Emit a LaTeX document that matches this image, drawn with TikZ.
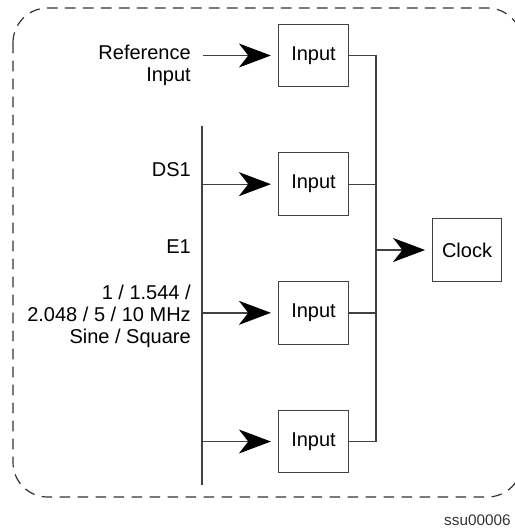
\documentclass[tikz,border=0pt]{standalone}
\usepackage{fontspec}
\setmainfont{Liberation Sans}
\usetikzlibrary{positioning, arrows.meta, calc}

\begin{document}
\begin{tikzpicture}[x=0.75pt, y=-0.75pt, node distance=96.5pt, on grid,
    inbox/.style={draw=black!75, line width=0.9pt, minimum width=53pt, minimum height=47pt, font=\fontsize{15}{16.5}\selectfont},
    lbl/.style={anchor=east, align=right, inner sep=0pt, font=\fontsize{15}{16.5}\selectfont},
    wire/.style={draw=black!75, line width=1pt},
    sig/.style={wire, -{Stealth[length=24pt, width=18pt, inset=7pt, black]}, shorten >=5pt}]
    \useasboundingbox (0,0) rectangle (514,531);
    % frame
    \draw[black!80, line width=0.9pt, dash pattern=on 8pt off 5.5pt, rounded corners=26pt] (13,8) rectangle (522,497);

    \node[inbox] (in0) at (313.5,55.5) {Input};
    \node[inbox] (in1) [below=of in0] {Input};
    \node[inbox] (in2) [below=of in1] {Input};
    \node[inbox] (in3) [below=of in2] {Input};
    \node[inbox, minimum width=52pt] (clk) at (467,250) {Clock};

    \coordinate (bus) at (376,0);
    \coordinate (lt) at (202,126);
    \coordinate (lb) at (202,485);
    \coordinate (refin) at (203,55.5);

    \node[lbl] (ref) at (191,65) {Reference\\Input};
    \node[lbl] (ds1) at (191,170) {DS1};
    \node[lbl] (e1) at (191,247) {E1};
    \node[lbl] (sq) at (191,316) {1 / 1.544 /\\2.048 / 5 / 10 MHz\\Sine / Square};
    \node[anchor=east, inner sep=0pt, text=black!80, font=\fontsize{11.5}{13}\selectfont] (id) at (511,520) {ssu00006};

    \draw[sig] (refin) -- (in0.west);
    \draw[wire] (lt) -- (lb);
    \foreach \n in {in1, in2, in3}
        \draw[sig] (\n.west -| lt) -- (\n.west);

    \draw[wire] (in0.east) -- (in0.east -| bus) -- (in3.east -| bus) -- (in3.east);
    \draw[wire] (in1.east) -- (in1.east -| bus);
    \draw[wire] (in2.east) -- (in2.east -| bus);
    \draw[sig] (bus |- clk.west) -- (clk.west);
\end{tikzpicture}
\end{document}
